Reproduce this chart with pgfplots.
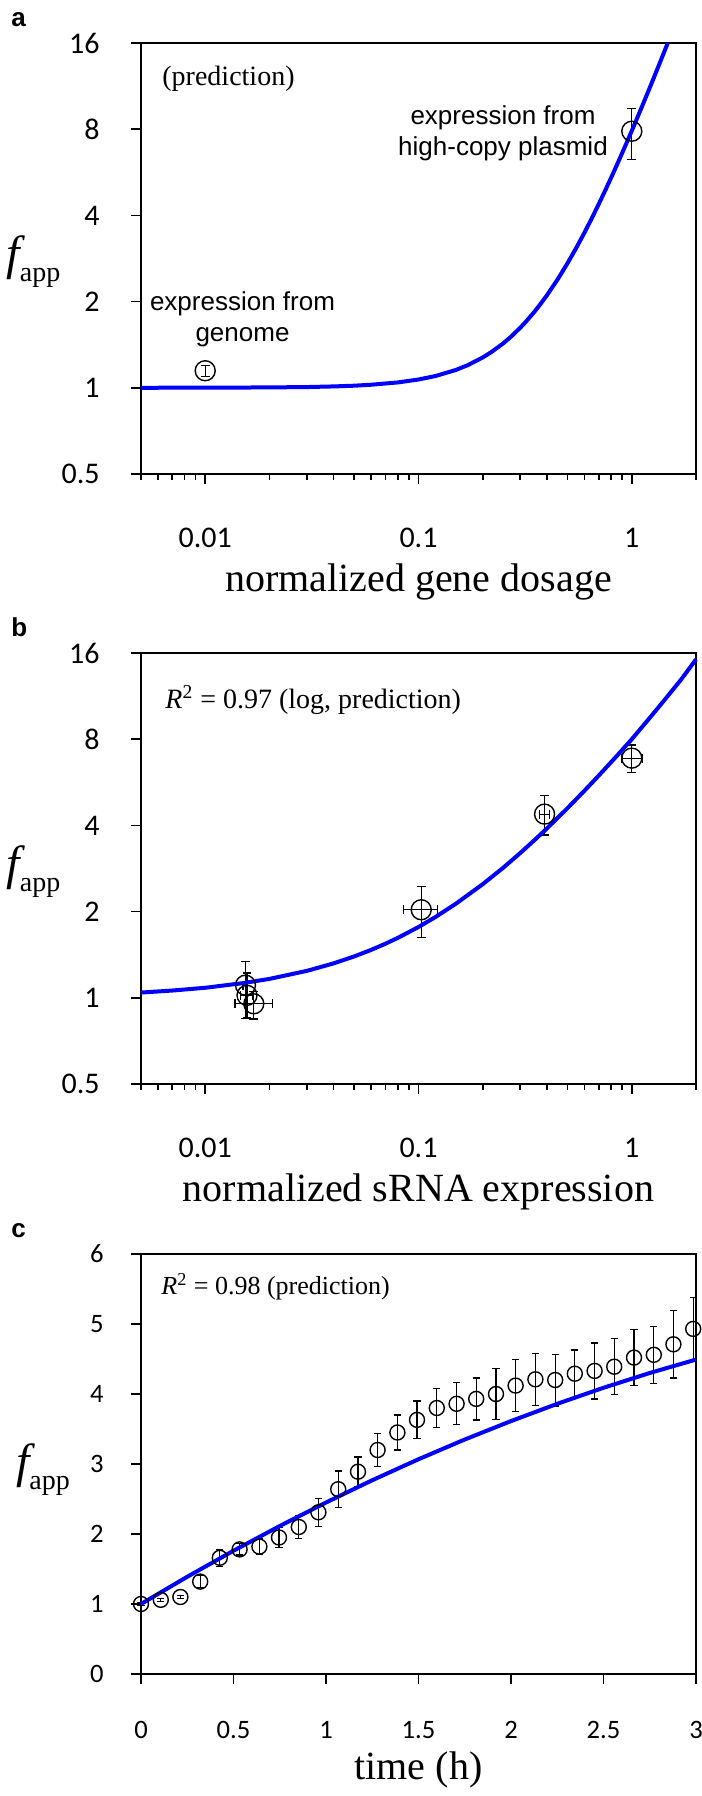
\documentclass[border=0pt]{standalone}
\usepackage{fontspec}
\setmainfont{Liberation Serif}
\newfontfamily\tickfont{Carlito}
\newfontfamily\arialfont{Liberation Sans}
\usepackage{pgfplots}
\usepackage{pgfplotstable}
\pgfplotsset{compat=1.18}
\definecolor{fitblue}{RGB}{0,0,255}

% panel a: measured points
\pgfplotstableread{
x y yp ym
0.01 1.147 0.05 0.055
1.0 7.87 1.58 1.60
}\dataA
% panel a: prediction
\pgfplotstableread{
x f
0.005 1.0002
0.01 1.0007
0.02 1.003
0.03 1.006
0.04 1.011
0.05 1.017
0.06 1.025
0.08 1.044
0.1 1.069
0.12 1.099
0.15 1.155
0.17 1.199
0.2 1.276
0.22 1.334
0.25 1.431
0.27 1.503
0.3 1.621
0.32 1.707
0.35 1.845
0.37 1.945
0.4 2.104
0.45 2.397
0.5 2.725
0.55 3.087
0.6 3.484
0.65 3.915
0.7 4.381
0.75 4.881
0.8 5.416
0.85 5.985
0.9 6.589
0.95 7.227
1.0 7.9
1.05 8.607
1.1 9.349
1.15 10.125
1.2 10.936
1.25 11.781
1.3 12.661
1.35 13.575
1.4 14.524
1.45 15.507
1.474 16.0
}\curveA
% panel b: measured points
\pgfplotstableread{
x y xp xm yp ym
0.01545 1.107 0.0004 0.0004 0.236 0.26
0.0157 1.02 0.001 0.001 0.20 0.17
0.0169 0.953 0.0037 0.0031 0.10 0.11
0.103 2.03 0.020 0.018 0.41 0.41
0.39 4.38 0.02 0.02 0.70 0.68
1.0 6.87 0.12 0.10 0.77 0.74
}\dataB
% panel b: prediction
\pgfplotstableread{
x f
0.005 1.043
0.007 1.060
0.01 1.084
0.015 1.125
0.02 1.164
0.03 1.242
0.04 1.319
0.05 1.395
0.06 1.470
0.07 1.545
0.08 1.619
0.1 1.767
0.12 1.914
0.15 2.133
0.2 2.493
0.25 2.849
0.3 3.204
0.35 3.555
0.4 3.904
0.5 4.599
0.6 5.287
0.7 5.971
0.85 6.989
1.0 8.0
1.2 9.4
1.4 10.8
1.7 12.9
2.0 15.2
}\curveB
% panel c: measured points
\pgfplotstableread{
t y e
0.000 1.00 0.02
0.107 1.06 0.02
0.213 1.10 0.02
0.320 1.32 0.09
0.426 1.66 0.12
0.533 1.78 0.08
0.640 1.82 0.11
0.746 1.95 0.14
0.853 2.10 0.16
0.959 2.31 0.20
1.066 2.64 0.26
1.173 2.89 0.21
1.279 3.20 0.24
1.386 3.45 0.25
1.492 3.63 0.27
1.599 3.80 0.28
1.706 3.86 0.30
1.812 3.93 0.30
1.919 4.00 0.36
2.025 4.12 0.37
2.132 4.21 0.37
2.239 4.20 0.37
2.345 4.29 0.34
2.452 4.33 0.40
2.558 4.39 0.40
2.665 4.52 0.40
2.772 4.56 0.41
2.878 4.71 0.48
2.985 4.93 0.45
}\dataC
% panel c: prediction
\pgfplotstableread{
t f
0 1.0
0.25 1.389
0.5 1.761
0.75 2.114
1.0 2.450
1.25 2.768
1.5 3.068
1.75 3.350
2.0 3.613
2.25 3.860
2.5 4.089
2.75 4.300
3.0 4.492
}\curveC

\pgfplotsset{
  panel/.style={
    scale only axis, width=277.5pt, clip=false,
    anchor=south west,
    axis line style={line width=0.8pt, black},
    tick align=outside, tick pos=left,
    major tick length=5pt, minor tick length=3pt,
    tick style={black, line width=0.8pt},
  },
  logpanel/.style={
    panel, height=215.5pt,
    log basis y=2,
    xmin=0.005, xmax=2, ymin=0.5, ymax=16,
    xtick={0.01,0.1,1}, xticklabels={0.01,0.1,1},
    minor xtick={0.005,0.006,0.007,0.008,0.009,0.02,0.03,0.04,0.05,0.06,0.07,0.08,0.09,0.2,0.3,0.4,0.5,0.6,0.7,0.8,0.9,2},
    ytick={0.5,1,2,4,8,16}, yticklabels={0.5,1,2,4,8,16},
    yminorticks=false,
    ticklabel style={font=\tickfont\fontsize{15}{15}\selectfont},
    xticklabel style={anchor=center, inner sep=0pt, yshift=-26.75pt},
    yticklabel style={anchor=east, inner sep=0pt, xshift=-15.5pt},
  },
}

\newcommand{\fapp}{{\fontsize{24}{24}\selectfont\itshape f}\raisebox{-6pt}{\fontsize{14}{14}\selectfont app}}

\begin{document}
\begin{tikzpicture}
% ---------------- panel a ----------------
\begin{loglogaxis}[logpanel, at={(70.5pt,661pt)}]
\addplot[only marks, mark=o, mark size=5pt, mark options={black, line width=0.7pt},
  error bars/.cd, y dir=both, y explicit,
  error bar style={black, line width=0.6pt},
  error mark options={rotate=90, black, mark size=2.2pt, line width=0.6pt}]
  table[x=x, y=y, y error plus=yp, y error minus=ym]{\dataA};
\addplot[fitblue, line width=2pt, no markers, line join=round] table[x=x, y=f]{\curveA};
\end{loglogaxis}
% ---------------- panel b ----------------
\begin{loglogaxis}[logpanel, at={(70.5pt,356pt)}]
\addplot[only marks, mark=o, mark size=5pt, mark options={black, line width=0.7pt},
  error bars/.cd, y dir=both, y explicit, x dir=both, x explicit,
  error bar style={black, line width=0.6pt},
  error mark options={rotate=90, black, mark size=2.2pt, line width=0.6pt}]
  table[x=x, y=y, x error plus=xp, x error minus=xm, y error plus=yp, y error minus=ym]{\dataB};
\addplot[fitblue, line width=2pt, no markers, line join=round] table[x=x, y=f]{\curveB};
\end{loglogaxis}
% ---------------- panel c ----------------
\begin{axis}[panel, at={(70.5pt,61pt)}, height=210pt,
  xmin=0, xmax=3, ymin=0, ymax=6,
  xtick={0,0.5,1,1.5,2,2.5,3}, xticklabels={0,0.5,1,1.5,2,2.5,3},
  ytick={0,1,2,3,4,5,6}, yticklabels={0,1,2,3,4,5,6},
  ticklabel style={font=\tickfont\fontsize{13.3}{13.3}\selectfont},
  xticklabel style={anchor=center, inner sep=0pt, yshift=-23pt},
  yticklabel style={anchor=east, inner sep=0pt, xshift=-13.5pt},
]
\addplot[only marks, mark=o, mark size=3.75pt, mark options={black, line width=0.7pt},
  error bars/.cd, y dir=both, y explicit,
  error bar style={black, line width=0.6pt},
  error mark options={rotate=90, black, mark size=1.8pt, line width=0.6pt}]
  table[x=t, y=y, y error=e]{\dataC};
\addplot[fitblue, line width=2pt, no markers, line join=round] table[x=t, y=f]{\curveC};
\end{axis}

% panel letters
\node[anchor=base west, inner sep=0pt, font=\arialfont\bfseries\fontsize{13}{13}\selectfont] at (5.5pt,884.5pt) {a};
\node[anchor=base west, inner sep=0pt, font=\arialfont\bfseries\fontsize{13}{13}\selectfont] at (5.5pt,579.5pt) {b};
\node[anchor=base west, inner sep=0pt, font=\arialfont\bfseries\fontsize{13}{13}\selectfont] at (5.5pt,279pt) {c};

% y labels
\node[inner sep=0pt] at (16.75pt,767pt) {\fapp};
\node[inner sep=0pt] at (16.75pt,462pt) {\fapp};
\node[inner sep=0pt] at (21.5pt,163pt) {\fapp};

% x labels
\node[inner sep=0pt, font=\fontsize{20}{20}\selectfont] at (209.25pt,607pt) {normalized gene dosage};
\node[inner sep=0pt, font=\fontsize{20}{20}\selectfont] at (209.25pt,302pt) {normalized sRNA expression};
\node[inner sep=0pt, font=\fontsize{20}{20}\selectfont] at (209.25pt,13pt) {time (h)};

% annotations
\node[anchor=west, inner sep=0pt, font=\fontsize{14}{14}\selectfont] at (81pt,858.5pt) {(prediction)};
\node[align=center, inner sep=0pt, font=\arialfont\fontsize{13}{15.3}\selectfont] at (251.5pt,831.25pt) {expression from\\high-copy plasmid};
\node[align=center, inner sep=0pt, font=\arialfont\fontsize{13}{15.3}\selectfont] at (121.25pt,738.25pt) {expression from\\genome};
\node[anchor=west, inner sep=0pt, font=\fontsize{14}{14}\selectfont] at (82.5pt,548pt) {\textit{R}\textsuperscript{2} = 0.97 (log, prediction)};
\node[anchor=west, inner sep=0pt, font=\fontsize{13}{13}\selectfont] at (80.5pt,254.5pt) {\textit{R}\textsuperscript{2} = 0.98 (prediction)};

\pgfresetboundingbox
\path[use as bounding box] (0pt,0pt) rectangle (351pt,898pt);
\end{tikzpicture}
\end{document}
